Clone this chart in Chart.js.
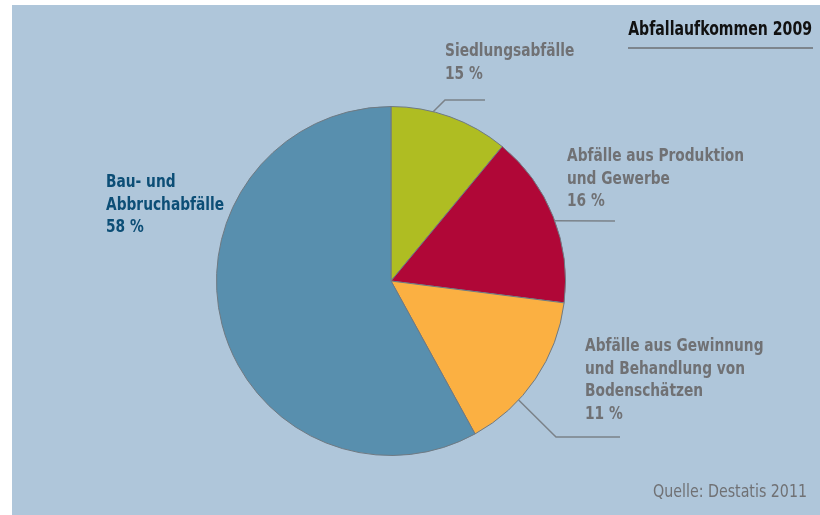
<!DOCTYPE html>
<html lang="de">
<head>
<meta charset="utf-8">
<title>Abfallaufkommen 2009</title>
<script src="https://cdn.jsdelivr.net/npm/chart.js@4/dist/chart.umd.min.js"></script>
<style>
    html, body { margin: 0; padding: 0; background: #fff; }
    canvas { display: block; }
</style>
</head>
<body>
<canvas id="abfall-chart" width="820" height="515"></canvas>
<script>
'use strict';

// Daten (Reihenfolge im Uhrzeigersinn ab 12 Uhr)
const kategorien = ['Siedlungsabfälle', 'Abfälle aus Produktion und Gewerbe', 'Abfälle aus Gewinnung und Behandlung von Bodenschätzen', 'Bau- und Abbruchabfälle'];
const anteile = [11, 16, 15, 58];
const farben = ['#afbd22', '#b00737', '#fbb042', '#588fae'];

// Beschriftungen wie in der Vorlage
const labelZeilen = [
    ['Siedlungsabfälle', '15 %'],
    ['Abfälle aus Produktion', 'und Gewerbe', '16 %'],
    ['Abfälle aus Gewinnung', 'und Behandlung von', 'Bodenschätzen', '11 %'],
    ['Bau- und', 'Abbruchabfälle', '58 %']
];
const titel = 'Abfallaufkommen 2009';
const quelle = 'Quelle: Destatis 2011';

const FONT = '"DejaVu Sans Condensed", "Liberation Sans Narrow", sans-serif';
const GRAU = '#707174';
const LINIE = '#7b8289';

// Layout der Beschriftungen: Textposition + Führungslinie (Winkel auf dem Kreis in Grad ab 12 Uhr)
const labelLayout = [
    { x: 445, y: 56, color: GRAU, winkel: 14, knick: [445, 100], ende: [485, 100] },
    { x: 567, y: 161, color: GRAU, winkel: 69.8, knick: null, ende: [615, 221] },
    { x: 585, y: 351, color: GRAU, winkel: 133, knick: [556, 437], ende: [620, 437] },
    { x: 106, y: 187, color: '#0c4e76', winkel: null }
];

// schmale Schrift nachbilden: Text horizontal stauchen
function schmalerText(ctx, text, x, y, sx) {
    ctx.save();
    ctx.translate(x, y);
    ctx.scale(sx, 1);
    ctx.fillText(text, 0, 0);
    ctx.restore();
}

const hintergrundPlugin = {
    id: 'hintergrund',
    beforeDraw(chart) {
        const { ctx } = chart;
        ctx.save();
        ctx.fillStyle = '#afc6da';
        ctx.fillRect(12, 5, chart.width - 12, chart.height - 5);
        ctx.restore();
    }
};

const beschriftungPlugin = {
    id: 'beschriftung',
    afterDraw(chart) {
        const { ctx } = chart;
        const arc = chart.getDatasetMeta(0).data[0];
        const cx = arc.x, cy = arc.y, r = arc.outerRadius;

        ctx.save();
        // Führungslinien
        ctx.strokeStyle = LINIE;
        ctx.lineWidth = 1.5;
        labelLayout.forEach(l => {
            if (l.winkel === null) return;
            const a = l.winkel * Math.PI / 180;
            ctx.beginPath();
            ctx.moveTo(cx + r * Math.sin(a), cy - r * Math.cos(a));
            if (l.knick) ctx.lineTo(l.knick[0], l.knick[1]);
            ctx.lineTo(l.ende[0], l.ende[1]);
            ctx.stroke();
        });

        // Texte
        ctx.textBaseline = 'alphabetic';
        ctx.textAlign = 'left';
        ctx.font = `bold 18px ${FONT}`;
        labelZeilen.forEach((zeilen, i) => {
            const l = labelLayout[i];
            ctx.fillStyle = l.color;
            zeilen.forEach((z, j) => schmalerText(ctx, z, l.x, l.y + j * 22.5, 0.85));
        });

        // Titel mit Linie
        ctx.textAlign = 'right';
        ctx.fillStyle = '#111';
        ctx.font = `bold 19px ${FONT}`;
        schmalerText(ctx, titel, 812, 35, 0.825);
        ctx.strokeStyle = '#7d858d';
        ctx.lineWidth = 2;
        ctx.beginPath();
        ctx.moveTo(628, 48);
        ctx.lineTo(813, 48);
        ctx.stroke();

        // Quelle
        ctx.fillStyle = GRAU;
        ctx.font = `17px ${FONT}`;
        schmalerText(ctx, quelle, 807, 497, 0.93);
        ctx.restore();
    }
};

new Chart(document.getElementById('abfall-chart'), {
    type: 'pie',
    data: {
        labels: kategorien,
        datasets: [{
            data: anteile,
            backgroundColor: farben,
            borderColor: '#6f7a83',
            borderWidth: 1
        }]
    },
    options: {
        responsive: false,
        animation: false,
        layout: { padding: { left: 216, right: 254, top: 106, bottom: 59 } },
        plugins: {
            legend: { display: false },
            tooltip: { enabled: false }
        }
    },
    plugins: [hintergrundPlugin, beschriftungPlugin]
});
</script>
</body>
</html>
